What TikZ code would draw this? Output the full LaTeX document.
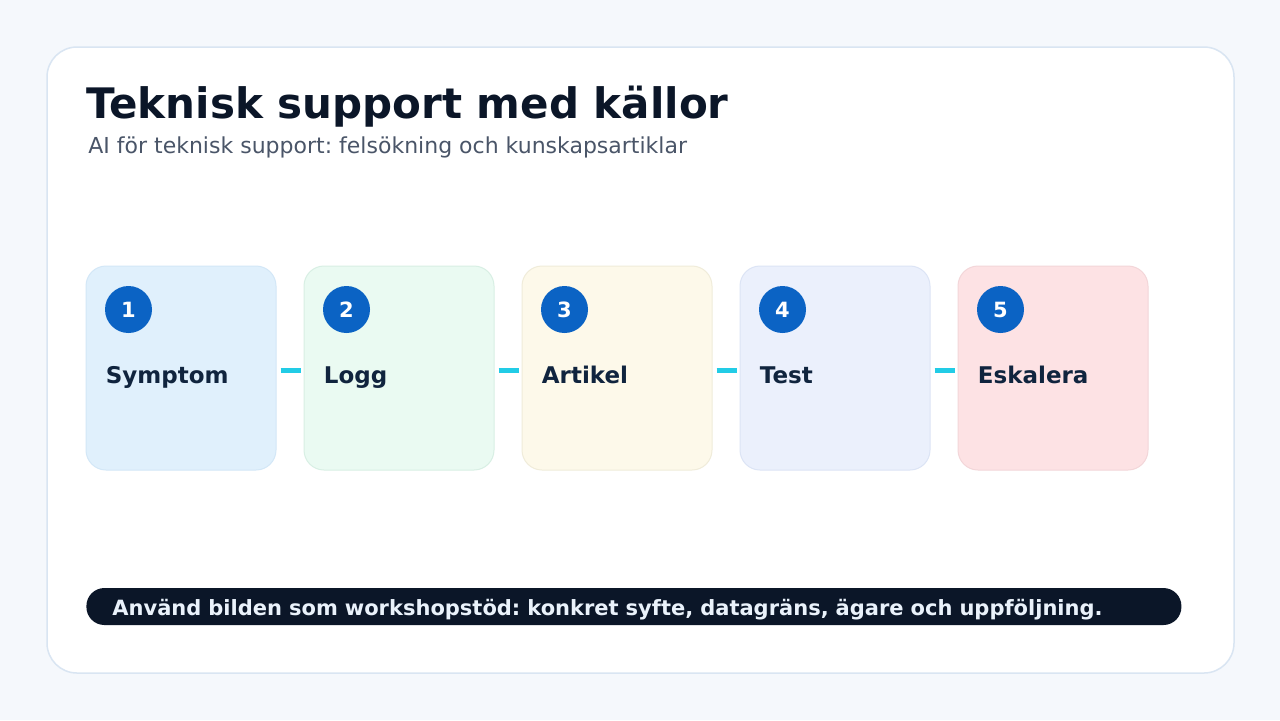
\documentclass[tikz,border=0pt]{standalone}
\usepackage{fontspec}
\setmainfont{DejaVu Sans}
\usetikzlibrary{positioning}
\frenchspacing
\definecolor{pagebg}{HTML}{F5F8FC}
\definecolor{cardline}{HTML}{D9E5F2}
\definecolor{ink}{HTML}{0B1628}
\definecolor{subink}{HTML}{4A5568}
\definecolor{lblink}{HTML}{10243E}
\definecolor{numblue}{HTML}{0B63C4}
\definecolor{linkcyan}{HTML}{22CCE6}
\definecolor{footink}{HTML}{EAF2FB}
\definecolor{fillA}{HTML}{E0F0FC}
\definecolor{lineA}{HTML}{D3E7F7}
\definecolor{fillB}{HTML}{EAFAF2}
\definecolor{lineB}{HTML}{D8EFE4}
\definecolor{fillC}{HTML}{FDF9EA}
\definecolor{lineC}{HTML}{F0ECDA}
\definecolor{fillD}{HTML}{EBF0FC}
\definecolor{lineD}{HTML}{DCE4F5}
\definecolor{fillE}{HTML}{FDE2E4}
\definecolor{lineE}{HTML}{F3D6D9}
\begin{document}
\begin{tikzpicture}[x=0.5pt,y=-0.5pt,
stepbox/.style={draw,rounded corners=10pt,minimum width=95pt,
minimum height=102pt,line width=0.5pt,inner sep=0pt},
num/.style={circle,fill=numblue,text=white,inner sep=0pt,
minimum size=23.5pt,font=\bfseries\fontsize{10.5}{12}\selectfont},
lbl/.style={anchor=base west,inner sep=0pt,text=lblink,
font=\bfseries\fontsize{11.5}{13}\selectfont},
link/.style={draw=linkcyan,line width=2.5pt},
footbar/.style={fill=ink,rounded corners=9pt,text=footink,anchor=west,
minimum height=18.5pt,text width=521.5pt,inner xsep=13pt,align=left,
text height=9pt,text depth=0pt,
font=\bfseries\fontsize{10.5}{12}\selectfont}]
\fill[pagebg] (0,0) rectangle (1280,720);
\useasboundingbox (0,0) rectangle (1280,720);
\draw[cardline,fill=white,rounded corners=15pt,line width=0.75pt] (47,47) rectangle (1234,673);

\node[anchor=base west,inner sep=0pt,text=ink,
font=\bfseries\fontsize{21}{25}\selectfont] (title) at (86,118) {Teknisk support med källor};
\node[anchor=base west,inner sep=0pt,text=subink,
font=\fontsize{11}{13}\selectfont] (sub) at (88,153) {AI för teknisk support: felsökning och kunskapsartiklar};

\node[stepbox,fill=fillA,draw=lineA] (s1) at (181,368) {};
\node[stepbox,fill=fillB,draw=lineB,right=13.5pt of s1] (s2) {};
\node[stepbox,fill=fillC,draw=lineC,right=13.5pt of s2] (s3) {};
\node[stepbox,fill=fillD,draw=lineD,right=13.5pt of s3] (s4) {};
\node[stepbox,fill=fillE,draw=lineE,right=13.5pt of s4] (s5) {};

\node[num] (n1) at ([xshift=21.5pt,yshift=-22pt]s1.north west) {1};
\node[num] (n2) at ([xshift=21.5pt,yshift=-22pt]s2.north west) {2};
\node[num] (n3) at ([xshift=21.5pt,yshift=-22pt]s3.north west) {3};
\node[num] (n4) at ([xshift=21.5pt,yshift=-22pt]s4.north west) {4};
\node[num] (n5) at ([xshift=21.5pt,yshift=-22pt]s5.north west) {5};

\node[lbl] (t1) at ([xshift=10pt,yshift=-7.5pt]s1.west) {Symptom};
\node[lbl] (t2) at ([xshift=10pt,yshift=-7.5pt]s2.west) {Logg};
\node[lbl] (t3) at ([xshift=10pt,yshift=-7.5pt]s3.west) {Artikel};
\node[lbl] (t4) at ([xshift=10pt,yshift=-7.5pt]s4.west) {Test};
\node[lbl] (t5) at ([xshift=10pt,yshift=-7.5pt]s5.west) {Eskalera};

\draw[link] ([xshift=2pt,yshift=-1pt]s1.east) -- ([xshift=-1.5pt,yshift=-1pt]s2.west);
\draw[link] ([xshift=2pt,yshift=-1pt]s2.east) -- ([xshift=-1.5pt,yshift=-1pt]s3.west);
\draw[link] ([xshift=2pt,yshift=-1pt]s3.east) -- ([xshift=-1.5pt,yshift=-1pt]s4.west);
\draw[link] ([xshift=2pt,yshift=-1pt]s4.east) -- ([xshift=-1.5pt,yshift=-1pt]s5.west);

\node[footbar] (foot) at (86,606.5) {Använd bilden som workshopstöd: konkret syfte, datagräns, ägare och uppföljning.};
\end{tikzpicture}
\end{document}
